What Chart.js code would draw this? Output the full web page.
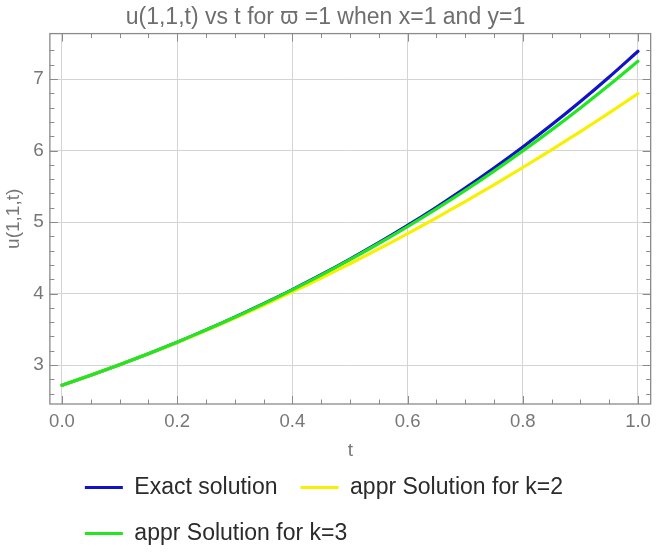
<!DOCTYPE html>
<html>
<head>
<meta charset="utf-8">
<script src="https://cdn.jsdelivr.net/npm/chart.js@4.4.1/dist/chart.umd.min.js"></script>
<style>
html,body{margin:0;padding:0;background:#ffffff;}
#wrap{width:658px;height:555px;}
</style>
</head>
<body>
<div id="wrap"><canvas id="c" width="658" height="555"></canvas></div>
<script>
// ---- data ----
const tValues      = [0, 0.05, 0.1, 0.15, 0.2, 0.25, 0.3, 0.35, 0.4, 0.45, 0.5, 0.55, 0.6, 0.65, 0.7, 0.75, 0.8, 0.85, 0.9, 0.95, 1.0];
const exactSolution = [2.718, 2.858, 3.004, 3.158, 3.320, 3.490, 3.669, 3.857, 4.055, 4.263, 4.482, 4.711, 4.953, 5.207, 5.474, 5.755, 6.050, 6.360, 6.686, 7.029, 7.389];
const apprK2        = [2.718, 2.858, 3.004, 3.157, 3.316, 3.483, 3.656, 3.836, 4.023, 4.217, 4.417, 4.624, 4.839, 5.059, 5.287, 5.521, 5.763, 6.011, 6.266, 6.527, 6.796];
const apprK3        = [2.718, 2.858, 3.004, 3.158, 3.320, 3.490, 3.668, 3.856, 4.052, 4.258, 4.474, 4.700, 4.936, 5.184, 5.442, 5.713, 5.995, 6.289, 6.596, 6.916, 7.249];

const seriesNames = ['Exact solution', 'appr Solution for k=2', 'appr Solution for k=3'];
const seriesColors = ['#1212c8', '#f7f000', '#22e622'];

const xMajorTicks = [0, 0.2, 0.4, 0.6, 0.8, 1.0];
const xMinorTicks = [0.05, 0.1, 0.15, 0.25, 0.3, 0.35, 0.45, 0.5, 0.55, 0.65, 0.7, 0.75, 0.85, 0.9, 0.95];
const yMajorTicks = [3, 4, 5, 6, 7];
const yMinorTicks = [2.6, 2.8, 3.2, 3.4, 3.6, 3.8, 4.2, 4.4, 4.6, 4.8, 5.2, 5.4, 5.6, 5.8, 6.2, 6.4, 6.6, 6.8, 7.2, 7.4];

const titleText = 'u(1,1,t) vs t for \u03D6 =1 when x=1 and y=1';
const xTitle = 't';
const yTitle = 'u(1,1,t)';

const FONT = "'Liberation Sans', Arial, Helvetica, sans-serif";
const FRAME = '#8a8a8a';

const toPoints = (ys) => tValues.map((t, i) => ({x: t, y: ys[i]}));

const framePlugin = {
  id: 'frameTicks',
  afterLayout(chart) {
    const lg = chart.legend;
    if (lg) {
      const target = chart.chartArea.left + 35 - lg.options.labels.padding;
      const d = target - lg.left;
      lg.left += d; lg.right += d;
    }
  },
  afterDatasetsDraw(chart) {
    const {ctx, chartArea: a, scales} = chart;
    const xs = scales.x, ys = scales.y;
    ctx.save();
    ctx.strokeStyle = FRAME;
    ctx.lineWidth = 1.3;
    ctx.strokeRect(a.left, a.top, a.right - a.left, a.bottom - a.top);
    ctx.lineWidth = 1;
    ctx.beginPath();
    const xt = (v, len) => {
      const px = Math.round(xs.getPixelForValue(v)) + 0.5;
      ctx.moveTo(px, a.bottom); ctx.lineTo(px, a.bottom - len);
      ctx.moveTo(px, a.top); ctx.lineTo(px, a.top + len);
    };
    const yt = (v, len) => {
      const py = Math.round(ys.getPixelForValue(v)) + 0.5;
      ctx.moveTo(a.left, py); ctx.lineTo(a.left + len, py);
      ctx.moveTo(a.right, py); ctx.lineTo(a.right - len, py);
    };
    xMajorTicks.forEach(v => xt(v, 8));
    xMinorTicks.forEach(v => xt(v, 4.5));
    yMajorTicks.forEach(v => yt(v, 8));
    yMinorTicks.forEach(v => yt(v, 4.5));
    ctx.stroke();
    ctx.restore();
  }
};

const orders = [3, 2, 1];
const datasets = [exactSolution, apprK2, apprK3].map((ys, i) => ({
  label: seriesNames[i],
  data: toPoints(ys),
  borderColor: seriesColors[i],
  backgroundColor: seriesColors[i],
  borderWidth: 3.2,
  pointRadius: 0,
  pointHoverRadius: 0,
  tension: 0.3,
  fill: false,
  borderCapStyle: 'round',
  order: orders[i]
}));

new Chart(document.getElementById('c'), {
  type: 'line',
  data: { datasets },
  options: {
    responsive: false,
    devicePixelRatio: 1,
    animation: false,
    layout: { padding: { left: 0, right: 7, top: 0, bottom: 0 } },
    plugins: {
      title: {
        display: true,
        text: titleText,
        color: '#6e6e6e',
        font: { family: FONT, size: 23, weight: 'normal', lineHeight: 1.2 },
        padding: { top: 4, bottom: 2 }
      },
      legend: {
        position: 'bottom',
        align: 'start',
        labels: {
          usePointStyle: true,
          pointStyle: 'line',
          pointStyleWidth: 38,
          boxHeight: 23,
          padding: 23,
          color: '#2b2b2b',
          font: { family: FONT, size: 23 },
          sort: (a, b) => a.datasetIndex - b.datasetIndex
        }
      },
      tooltip: { enabled: false }
    },
    scales: {
      x: {
        type: 'linear',
        min: -0.021,
        max: 1.022,
        afterBuildTicks: (s) => { s.ticks = xMajorTicks.map(v => ({value: v})); },
        ticks: {
          color: '#777777',
          font: { family: FONT, size: 18.5, lineHeight: 1.2 },
          padding: 7,
          callback: (v) => Number(v).toFixed(1)
        },
        grid: { color: '#d4d4d4', lineWidth: 1, drawTicks: false },
        border: { display: false },
        title: {
          display: true,
          text: xTitle,
          color: '#777777',
          font: { family: FONT, size: 19, lineHeight: 1.2 },
          padding: { top: -0.6, bottom: -9.4 }
        }
      },
      y: {
        type: 'linear',
        min: 2.455,
        max: 7.636,
        afterBuildTicks: (s) => { s.ticks = yMajorTicks.map(v => ({value: v})); },
        ticks: {
          color: '#777777',
          font: { family: FONT, size: 19, lineHeight: 1.2 },
          padding: 6,
          callback: (v) => String(v)
        },
        grid: { color: '#d4d4d4', lineWidth: 1, drawTicks: false },
        border: { display: false },
        title: {
          display: true,
          text: yTitle,
          color: '#777777',
          font: { family: FONT, size: 19, lineHeight: 1.2 },
          padding: { top: 2, bottom: 2.5 }
        }
      }
    }
  },
  plugins: [framePlugin]
});
</script>
</body>
</html>
